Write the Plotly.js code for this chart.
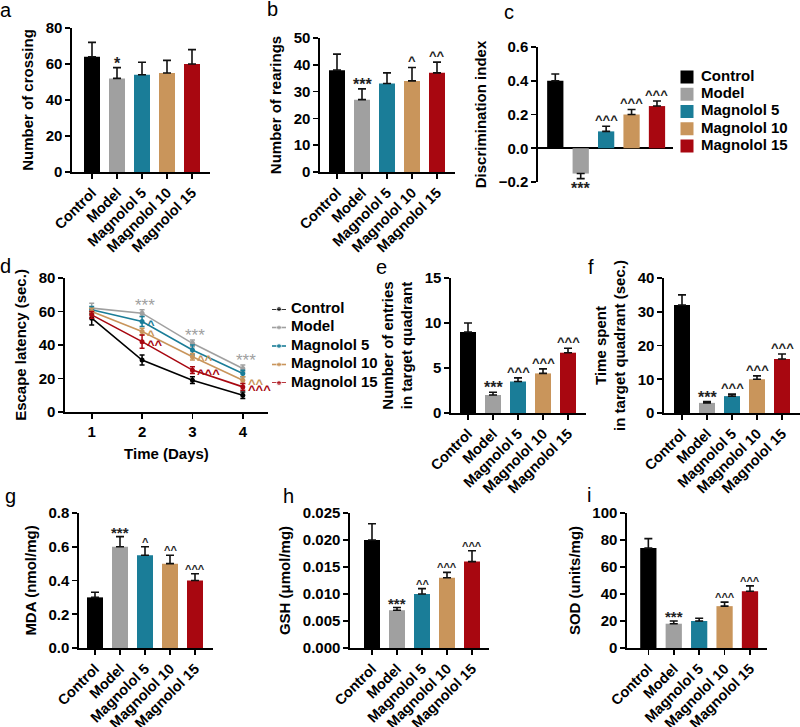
<!DOCTYPE html>
<html><head><meta charset="utf-8">
<script src="https://cdn.plot.ly/plotly-3.0.1.min.js"></script>
<style>html,body{margin:0;padding:0;background:#fff}</style>
</head><body><div id="chart" style="width:800px;height:727px"></div>
<script>
// ---------- data ----------
const groups = ['Control', 'Model', 'Magnolol 5', 'Magnolol 10', 'Magnolol 15'];
const groupColors = ['#000000', '#a0a0a0', '#1a7d98', '#c9955b', '#a80710'];

// a: open field crossings
const crossing = [64, 52, 54, 55, 60];
const crossingErr = [8, 6, 7, 7, 8];
const crossingSig = ['', '*', '', '', ''];
// b: rearings
const rearings = [38, 27, 33, 34, 37];
const rearingsErr = [6, 4, 4, 5, 4];
const rearingsSig = ['', '***', '', '^', '^^'];
// c: discrimination index
const discrimination = [0.40, -0.15, 0.10, 0.20, 0.25];
const discriminationErr = [0.04, 0.03, 0.03, 0.03, 0.03];
const discriminationSig = ['', '***', '^^^', '^^^', '^^^'];
// d: escape latency
const days = [1, 2, 3, 4];
const latencyControl = [56, 31, 19, 10];
const latencyModel = [62, 59, 41, 26];
const latencyM5 = [61, 54, 37, 23];
const latencyM10 = [60, 48, 33, 19];
const latencyM15 = [58, 42, 25, 15];
const latencyErrControl = [4, 3, 2, 2];
const latencyErrModel = [3, 2, 2, 2];
const latencyErrM5 = [2, 3, 3, 2];
const latencyErrM10 = [2, 2, 2, 2];
const latencyErrM15 = [2, 4, 2, 2];
const latencySigModel = ['', '***', '***', '***'];
const latencySigM5 = ['', '^', '', ''];
const latencySigM10 = ['', '^', '^^', '^^'];
const latencySigM15 = ['', '^^', '^^^', '^^^'];
// e: entries
const entries = [9, 2, 3.5, 4.4, 6.7];
const entriesErr = [1, 0.3, 0.4, 0.5, 0.5];
const entriesSig = ['', '***', '^^^', '^^^', '^^^'];
// f: time in target quadrant
const timeSpent = [32, 3, 5, 10, 16];
const timeSpentErr = [3, 0.4, 0.6, 1, 1.5];
const timeSpentSig = ['', '***', '^^^', '^^^', '^^^'];
// g: MDA
const mda = [0.30, 0.60, 0.55, 0.50, 0.40];
const mdaErr = [0.03, 0.06, 0.05, 0.05, 0.04];
const mdaSig = ['', '***', '^', '^^', '^^^'];
// h: GSH
const gsh = [0.020, 0.007, 0.010, 0.013, 0.016];
const gshErr = [0.003, 0.0005, 0.001, 0.001, 0.002];
const gshSig = ['', '***', '^^', '^^^', '^^^'];
// i: SOD
const sod = [74, 18, 20, 31, 42];
const sodErr = [7, 2, 2, 3, 4];
const sodSig = ['', '***', '', '^^^', '^^^'];

// ---------- helpers ----------
const FONT = 'Liberation Sans, Arial, sans-serif';
const W = 800, H = 727;
const dx = (a, b) => [a / W, b / W];
const dy = (top, bottom) => [1 - bottom / H, 1 - top / H];
const idx = groups.map((g, i) => i);

const traces = [];
const annotations = [];

function barPanel(n, vals, errs, sigs, big) {
  const ax = n === 1 ? '' : String(n);
  traces.push({
    type: 'bar', x: idx, y: vals, width: 0.64,
    xaxis: 'x' + ax, yaxis: 'y' + ax, showlegend: false,
    marker: {color: groupColors, line: {width: 0}},
    error_y: {type: 'data', symmetric: false,
      array: vals.map((v, i) => v >= 0 ? errs[i] : 0),
      arrayminus: vals.map((v, i) => v < 0 ? errs[i] : 0),
      color: '#111', thickness: 1.6, width: 4},
    hoverinfo: 'skip'
  });
  sigs.forEach((s, i) => {
    if (!s) return;
    const neg = vals[i] < 0;
    const star = s.indexOf('*') >= 0;
    const size = star ? (big ? 16 : 15) : (big ? 13 : 11);
    annotations.push({
      xref: 'x' + ax, yref: 'y' + ax, x: i,
      y: neg ? vals[i] - errs[i] : vals[i] + errs[i],
      text: s, showarrow: false,
      yanchor: neg ? 'top' : 'bottom', yshift: neg ? (star ? 1 : 0) : (star ? -6 : -3),
      font: {family: FONT, size: size, weight: 700, color: '#222'}
    });
  });
}

barPanel(1, crossing, crossingErr, crossingSig, true);
barPanel(2, rearings, rearingsErr, rearingsSig, true);
barPanel(3, discrimination, discriminationErr, discriminationSig, true);
barPanel(5, entries, entriesErr, entriesSig, true);
barPanel(6, timeSpent, timeSpentErr, timeSpentSig, true);
barPanel(7, mda, mdaErr, mdaSig, false);
barPanel(8, gsh, gshErr, gshSig, false);
barPanel(9, sod, sodErr, sodSig, false);

// d: line chart
const latencySeries = [latencyControl, latencyModel, latencyM5, latencyM10, latencyM15];
const latencyErrs = [latencyErrControl, latencyErrModel, latencyErrM5, latencyErrM10, latencyErrM15];
const latencySigs = [null, latencySigModel, latencySigM5, latencySigM10, latencySigM15];
latencySeries.forEach((ys, k) => {
  traces.push({
    type: 'scatter', mode: 'lines+markers', x: days, y: ys,
    xaxis: 'x4', yaxis: 'y4', showlegend: false, name: groups[k],
    line: {color: groupColors[k], width: 1.6},
    marker: {color: groupColors[k], size: 5},
    error_y: {type: 'data', array: latencyErrs[k], color: groupColors[k], thickness: 1.5, width: 2.5},
    hoverinfo: 'skip'
  });
});
latencySigs.forEach((sig, k) => {
  if (!sig) return;
  sig.forEach((s, j) => {
    if (!s) return;
    const star = s.indexOf('*') >= 0;
    if (star) {
      annotations.push({xref: 'x4', yref: 'y4', x: days[j], y: latencySeries[k][j] + latencyErrs[k][j],
        text: s, showarrow: false, yanchor: 'bottom', yshift: -7, xshift: 3,
        font: {family: FONT, size: 17, color: groupColors[k]}});
    } else {
      annotations.push({xref: 'x4', yref: 'y4', x: days[j], y: latencySeries[k][j],
        text: s, showarrow: false, xanchor: 'left', yanchor: 'middle', xshift: 3, yshift: -3,
        font: {family: FONT, size: 13, weight: 700, color: groupColors[k]}});
    }
  });
});

// legend for c (drawn as a scatter on a hidden axis)
traces.push({
  type: 'scatter', mode: 'markers', x: groups.map(() => 0), y: idx,
  xaxis: 'x10', yaxis: 'y10', showlegend: false, cliponaxis: false,
  marker: {symbol: 'square', size: 13, color: groupColors}, hoverinfo: 'skip'
});
traces.push({
  type: 'scatter', mode: 'text', x: groups.map(() => 1.4), y: idx, text: groups,
  textposition: 'middle right', xaxis: 'x10', yaxis: 'y10', showlegend: false, cliponaxis: false,
  textfont: {family: FONT, size: 15, weight: 700, color: '#000'}, hoverinfo: 'skip'
});
// legend for d
groups.forEach((g, k) => {
  traces.push({
    type: 'scatter', mode: 'lines+markers', x: [0, 0.7, 1.4], y: [k, k, k],
    xaxis: 'x11', yaxis: 'y11', showlegend: false, cliponaxis: false,
    line: {color: groupColors[k], width: 1.6},
    marker: {color: groupColors[k], size: [0, 5, 0]}, hoverinfo: 'skip'
  });
});
traces.push({
  type: 'scatter', mode: 'text', x: groups.map(() => 1.9), y: idx, text: groups,
  textposition: 'middle right', xaxis: 'x11', yaxis: 'y11', showlegend: false, cliponaxis: false,
  textfont: {family: FONT, size: 15, weight: 700, color: '#000'}, hoverinfo: 'skip'
});

// ---------- axes ----------
const tickFont = {family: FONT, size: 15, weight: 700, color: '#000'};
const titleFont = {family: FONT, size: 15, weight: 700, color: '#000'};
const base = {showline: true, linecolor: '#000', linewidth: 1.6, ticks: 'outside', ticklen: 5,
  tickwidth: 1.6, tickcolor: '#000', showgrid: false, zeroline: false, tickfont: tickFont, fixedrange: true};

function xCat(domPx, range, anchor) {
  return Object.assign({}, base, {domain: dx(domPx[0], domPx[1]), range: range, anchor: anchor,
    tickvals: idx, ticktext: groups, tickangle: -45, tickfont: Object.assign({}, tickFont, {size: 14.5})});
}
function yNum(domPx, range, dtick, fmt, title, anchor) {
  return Object.assign({}, base, {domain: dy(domPx[0], domPx[1]), range: range, dtick: dtick, tick0: 0,
    tickformat: fmt, anchor: anchor, title: {text: title, font: titleFont, standoff: 8}});
}

const layout = {
  width: W, height: H, margin: {l: 0, r: 0, t: 0, b: 0},
  paper_bgcolor: '#fff', plot_bgcolor: 'rgba(0,0,0,0)', showlegend: false,
  font: {family: FONT, color: '#000'},
  // a
  xaxis: xCat([72, 210], [-0.8, 4.72], 'y'),
  yaxis: yNum([28, 172], [0, 80], 20, '', 'Number of crossing', 'x'),
  // b
  xaxis2: xCat([320, 455], [-0.68, 4.72], 'y2'),
  yaxis2: yNum([38, 172], [0, 50], 10, '', 'Number of rearings', 'x2'),
  // c
  xaxis3: Object.assign({}, base, {domain: dx(538, 673), range: [-0.68, 4.63], anchor: 'y3',
    showline: false, ticks: '', showticklabels: false}),
  yaxis3: Object.assign(yNum([47, 182], [-0.2, 0.6], 0.2, '.1f', 'Discrimination index', 'x3'),
    {zeroline: true, zerolinecolor: '#000', zerolinewidth: 1.6}),
  // d
  xaxis4: Object.assign({}, base, {domain: dx(65, 268), range: [0.47, 4.5], anchor: 'y4',
    tickvals: days, title: {text: 'Time (Days)', font: titleFont, standoff: 10}}),
  yaxis4: yNum([278, 412], [0, 80], 20, '', 'Escape latency (sec.)', 'x4'),
  // e
  xaxis5: xCat([451, 586], [-0.68, 4.72], 'y5'),
  yaxis5: yNum([278, 413], [0, 15], 5, '', 'Number of entries<br>in target quadrant', 'x5'),
  // f
  xaxis6: xCat([664, 800], [-0.72, 4.72], 'y6'),
  yaxis6: yNum([278, 413], [0, 40], 10, '', 'Time spent<br>in target quadrant (sec.)', 'x6'),
  // g
  xaxis7: xCat([79, 213], [-0.64, 4.72], 'y7'),
  yaxis7: yNum([513, 648], [0, 0.8], 0.2, '.1f', 'MDA (nmol/mg)', 'x7'),
  // h
  xaxis8: xCat([350, 489], [-0.88, 4.68], 'y8'),
  yaxis8: yNum([513, 648], [0, 0.025], 0.005, '.3f', 'GSH (μmol/mg)', 'x8'),
  // i
  xaxis9: xCat([627, 767], [-0.84, 4.67], 'y9'),
  yaxis9: yNum([513, 648], [0, 100], 20, '', 'SOD (units/mg)', 'x9'),
  // hidden legend axes
  xaxis10: {domain: dx(687, 787), range: [0, 10], visible: false, fixedrange: true, anchor: 'y10'},
  yaxis10: {domain: dy(77, 146), range: [4, 0], visible: false, fixedrange: true, anchor: 'x10'},
  xaxis11: {domain: dx(272, 372), range: [0, 10], visible: false, fixedrange: true, anchor: 'y11'},
  yaxis11: {domain: dy(309, 383), range: [4, 0], visible: false, fixedrange: true, anchor: 'x11'},
  annotations: annotations
};

// panel letters
const letters = [['a', 6, 10], ['b', 272, 9], ['c', 509, 12], ['d', 5, 266], ['e', 381, 267],
  ['f', 591, 267], ['g', 10, 496], ['h', 288, 496], ['i', 589, 495]];
letters.forEach(l => layout.annotations.push({
  xref: 'paper', yref: 'paper', x: l[1] / W, y: 1 - l[2] / H, text: l[0], showarrow: false,
  xanchor: 'center', yanchor: 'middle', font: {family: FONT, size: 20, color: '#000'}
}));

Plotly.newPlot('chart', traces, layout, {displayModeBar: false, staticPlot: true});
</script></body></html>
